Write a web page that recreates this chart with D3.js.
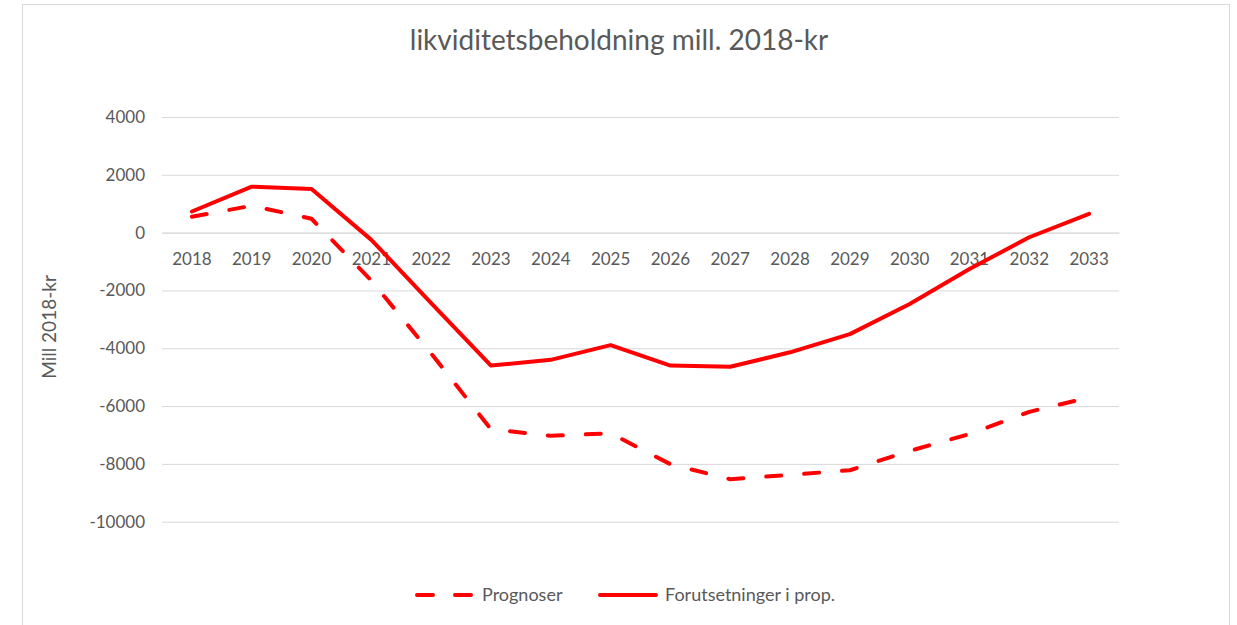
<!DOCTYPE html>
<html lang="en">
  <head>
    <meta charset="utf-8" />
    <title>likviditetsbeholdning</title>
    <script src="https://d3js.org/d3.v7.min.js"></script>
    <style type="text/css">
      body { margin: 0; background: #fff; }
      text { font-family: Lato, 'Open Sans', sans-serif; fill: #595959; }
    </style>
  </head>
  <body>
    <script type="text/javascript">
      const years = ['2018', '2019', '2020', '2021', '2022', '2023', '2024', '2025',
        '2026', '2027', '2028', '2029', '2030', '2031', '2032', '2033'];
      const prognoser = [550, 930, 480, -1660, -4180, -6800, -7030, -6940,
        -8010, -8530, -8380, -8220, -7550, -6970, -6200, -5700];
      const forutsetninger = [730, 1590, 1510, -250, -2440, -4600, -4400, -3890,
        -4600, -4640, -4140, -3510, -2470, -1260, -160, 650];
      const yTicks = [4000, 2000, 0, -2000, -4000, -6000, -8000, -10000];
      const seriesNames = ['Prognoser', 'Forutsetninger i prop.'];

      const w = 1237;
      const h = 625;
      const plotLeft = 162;
      const plotRight = 1119;
      const plotTop = 117;
      const plotBottom = 521.7;

      const svg = d3
        .select('body')
        .append('svg')
        .attr('width', w)
        .attr('height', h);

      // chart frame
      svg
        .append('rect')
        .attr('x', 22.5)
        .attr('y', 4.5)
        .attr('width', 1207)
        .attr('height', 640)
        .attr('fill', '#fff')
        .attr('stroke', '#d9d9d9');

      const xScale = d3.scaleBand().domain(years).range([plotLeft, plotRight]);
      const yScale = d3.scaleLinear().domain([-10000, 4000]).range([plotBottom, plotTop]);
      const cx = d => xScale(d) + xScale.bandwidth() / 2;

      // gridlines + y labels
      const yAxis = d3
        .axisLeft(yScale)
        .tickValues(yTicks)
        .tickSize(-(plotRight - plotLeft))
        .tickPadding(17)
        .tickFormat(d => String(d));
      const gy = svg
        .append('g')
        .attr('transform', `translate(${plotLeft},0)`)
        .call(yAxis);
      gy.select('.domain').remove();
      gy.selectAll('line').attr('stroke', '#d9d9d9').attr('stroke-width', 1);
      gy.selectAll('text').style('font-size', '17px').attr('fill', '#595959');

      // category labels sit under the zero line
      const xAxis = d3.axisBottom(xScale).tickSize(0).tickPadding(20);
      const gx = svg
        .append('g')
        .attr('transform', `translate(0,${yScale(0)})`)
        .call(xAxis);
      gx.select('.domain').attr('stroke', '#d9d9d9');
      gx.selectAll('text').style('font-size', '17px').attr('fill', '#595959');

      // title
      svg
        .append('text')
        .attr('x', 619)
        .attr('y', 50)
        .style('text-anchor', 'middle')
        .style('font-size', '28px')
        .text('likviditetsbeholdning mill. 2018-kr');

      // y axis name
      svg
        .append('text')
        .attr('transform', 'rotate(-90)')
        .attr('x', -327)
        .attr('y', 56)
        .style('text-anchor', 'middle')
        .style('font-size', '19px')
        .text('Mill 2018-kr');

      const line = d3
        .line()
        .x((d, i) => cx(years[i]))
        .y(d => yScale(d));

      const styles = [
        { data: prognoser, dash: '15,23' },
        { data: forutsetninger, dash: null },
      ];

      svg
        .selectAll('path.series')
        .data(styles)
        .enter()
        .append('path')
        .attr('class', 'series')
        .attr('d', d => line(d.data))
        .attr('fill', 'none')
        .attr('stroke', '#ff0000')
        .attr('stroke-width', 4)
        .attr('stroke-linejoin', 'round')
        .attr('stroke-linecap', 'round')
        .attr('stroke-dasharray', d => d.dash);

      // legend
      const legendX = [417, 600];
      const legend = svg
        .selectAll('g.legend')
        .data(styles)
        .enter()
        .append('g')
        .attr('class', 'legend')
        .attr('transform', (d, i) => `translate(${legendX[i]},595)`);
      legend
        .append('line')
        .attr('x1', 0)
        .attr('x2', 56)
        .attr('stroke', '#ff0000')
        .attr('stroke-width', 4)
        .attr('stroke-linecap', 'round')
        .attr('stroke-dasharray', d => (d.dash ? '16,22' : null));
      legend
        .append('text')
        .attr('x', 65)
        .attr('y', 6)
        .style('font-size', '18px')
        .text((d, i) => seriesNames[i]);
    </script>
  </body>
</html>
